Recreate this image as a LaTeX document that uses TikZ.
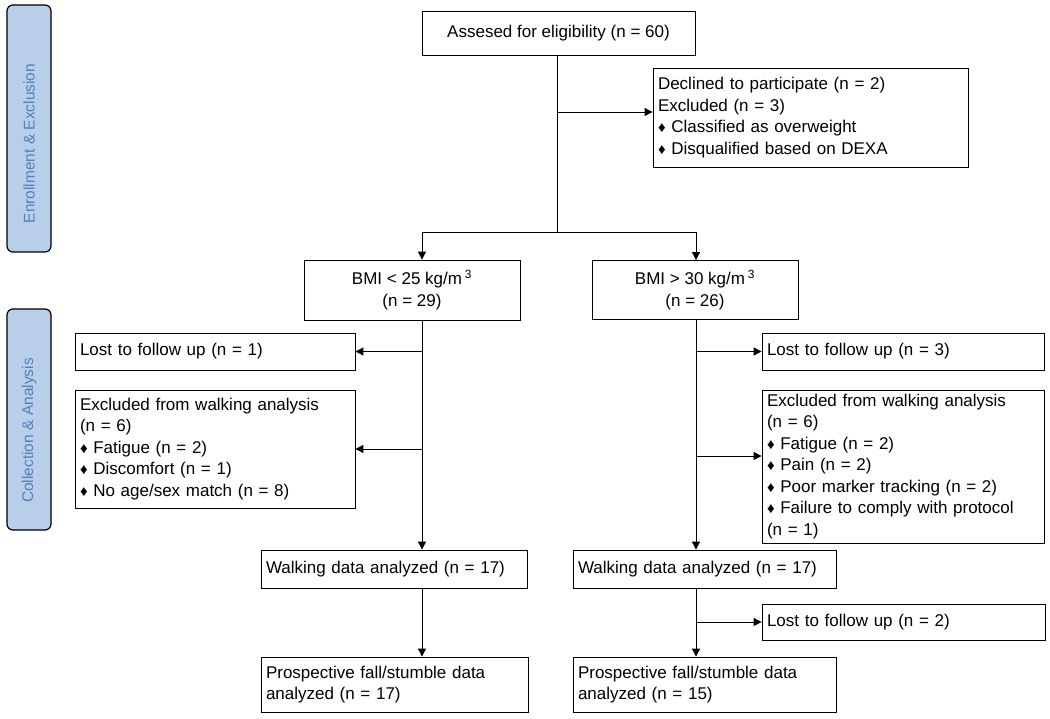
\documentclass[tikz,border=0pt]{standalone}
\usepackage{fontspec}
\setmainfont{Liberation Sans}
\usetikzlibrary{arrows.meta}
\definecolor{sidefill}{RGB}{185,206,232}
\definecolor{sidetext}{RGB}{79,129,189}
\newcommand{\dia}{{\fontsize{15}{15}\selectfont ♦}\ }

\begin{document}
\begin{tikzpicture}
          [x=1pt, y=-1pt, every node/.style={draw, line width=0.8pt, inner xsep=5pt, inner ysep=2pt, font=\fontsize{17}{21.5}\selectfont},
           flow/.style={line width=0.9pt, -{Triangle[length=8pt,width=8pt]}},
           side/.style={rounded corners=6pt, fill=sidefill, text=sidetext, rotate=90, line width=1.2pt, font=\fontsize{15.5}{15.5}\selectfont, inner sep=0pt}]

          \useasboundingbox (0,0) rectangle (1050,719);

          \node[side, minimum width=247pt, minimum height=44pt] (enrol) at (29, 128.5) {Enrollment \& Exclusion\hspace*{30pt}};
          \node[side, minimum width=221pt, minimum height=44pt] (collect) at (29, 419.5) {Collection \& Analysis\hspace*{22pt}};

          \node[minimum width=273pt, minimum height=44pt, align=center] (elig) at (558.5, 33) {Assesed for eligibility (n = 60)};
          \node[minimum height=99pt, text width=305pt, align=left] (decl) at (810.5, 117.5) {Declined to participate (n = 2)\\Excluded (n = 3)\\\dia Classified as overweight\\\dia Disqualified based on DEXA};
          \node[minimum width=216pt, minimum height=60pt, align=center] (bmiA) at (412, 290) {BMI < 25 kg/m\,\textsuperscript{3}\\(n = 29)};
          \node[minimum width=206pt, minimum height=59pt, align=center] (bmiB) at (695, 290) {BMI > 30 kg/m\,\textsuperscript{3}\\(n = 26)};
          \node[minimum height=37pt, text width=270pt, align=left] (lostA) at (215, 351.5) {Lost to follow up (n = 1)};
          \node[minimum height=118pt, text width=270pt, align=left] (exclA) at (215, 449) {Excluded from walking analysis\\(n = 6)\\\dia Fatigue (n = 2)\\\dia Discomfort (n = 1)\\\dia No age/sex match (n = 8)};
          \node[minimum height=37pt, text width=272pt, align=left] (lostB) at (903, 351.5) {Lost to follow up (n = 3)};
          \node[minimum height=153pt, text width=272pt, align=left] (exclB) at (903, 466.5) {Excluded from walking analysis\\(n = 6)\\\dia Fatigue (n = 2)\\\dia Pain (n = 2)\\\dia Poor marker tracking (n = 2)\\\dia Failure to comply with protocol\\(n = 1)};
          \node[minimum height=38pt, text width=256pt, align=left] (walkA) at (394, 569) {Walking data analyzed (n = 17)};
          \node[minimum height=38pt, text width=253pt, align=left] (walkB) at (704.5, 569) {Walking data analyzed (n = 17)};
          \node[minimum height=36pt, text width=273pt, align=left] (lostC) at (903.5, 622) {Lost to follow up (n = 2)};
          \node[minimum height=55pt, text width=257pt, align=left] (prosA) at (394.5, 684.5) {Prospective fall/stumble data\\analyzed (n = 17)};
          \node[minimum height=55pt, text width=253pt, align=left] (prosB) at (704.5, 684.5) {Prospective fall/stumble data\\analyzed (n = 15)};

          \coordinate (tM) at (557, 0);
          \coordinate (tA) at (422, 0);
          \coordinate (tB) at (696, 0);
          \coordinate (split) at (557, 232);
          \coordinate (dj) at (557, 112);
          \coordinate (ej) at (696, 456);

          \draw[line width=0.9pt] (tM |- elig.south) -- (split);
          \draw[flow] (dj) -- (dj -| decl.west);
          \draw[flow] (split) -| (tA |- bmiA.north);
          \draw[flow] (split) -| (tB |- bmiB.north);
          \draw[flow] (tA |- bmiA.south) -- (tA |- walkA.north);
          \draw[flow] (tA |- lostA) -- (lostA.east);
          \draw[flow] (tA |- exclA) -- (exclA.east);
          \draw[flow] (tA |- walkA.south) -- (tA |- prosA.north);
          \draw[flow] (tB |- bmiB.south) -- (tB |- walkB.north);
          \draw[flow] (tB |- lostB) -- (lostB.west);
          \draw[flow] (ej) -- (ej -| exclB.west);
          \draw[flow] (tB |- walkB.south) -- (tB |- prosB.north);
          \draw[flow] (tB |- lostC) -- (lostC.west);

        \end{tikzpicture}
\end{document}
